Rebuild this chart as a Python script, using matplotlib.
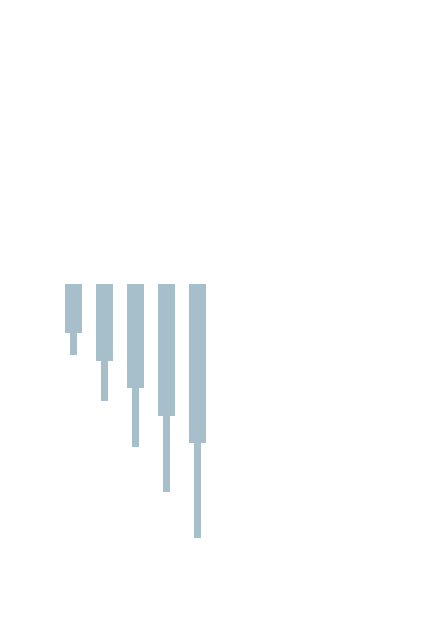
import matplotlib
matplotlib.use("Agg")
import matplotlib.pyplot as plt
import numpy as np

# five columns, each a wide block hanging from a baseline and a thin tail below it
categories = [0, 1, 2, 3, 4]
block_depth = [49, 76.5, 104, 131.5, 159]
tail_depth = [22, 40, 58.5, 76.5, 95]

color = "#a6bfca"


def main():
    fig = plt.figure(figsize=(4.43, 6.27), dpi=100)
    ax = fig.add_axes([0, 0, 1, 1])

    x = np.array(categories)
    block = np.array(block_depth)
    tail = np.array(tail_depth)

    ax.bar(x, -block, width=0.54, bottom=0, color=color, linewidth=0)
    ax.bar(x, -tail, width=0.215, bottom=-block, color=color, linewidth=0)

    ax.set_xlim(-2.365, 11.926)
    ax.set_ylim(-342.7, 284.3)
    ax.axis("off")

    fig.savefig("out.png", dpi=100, facecolor="white")


if __name__ == '__main__':
    main()
